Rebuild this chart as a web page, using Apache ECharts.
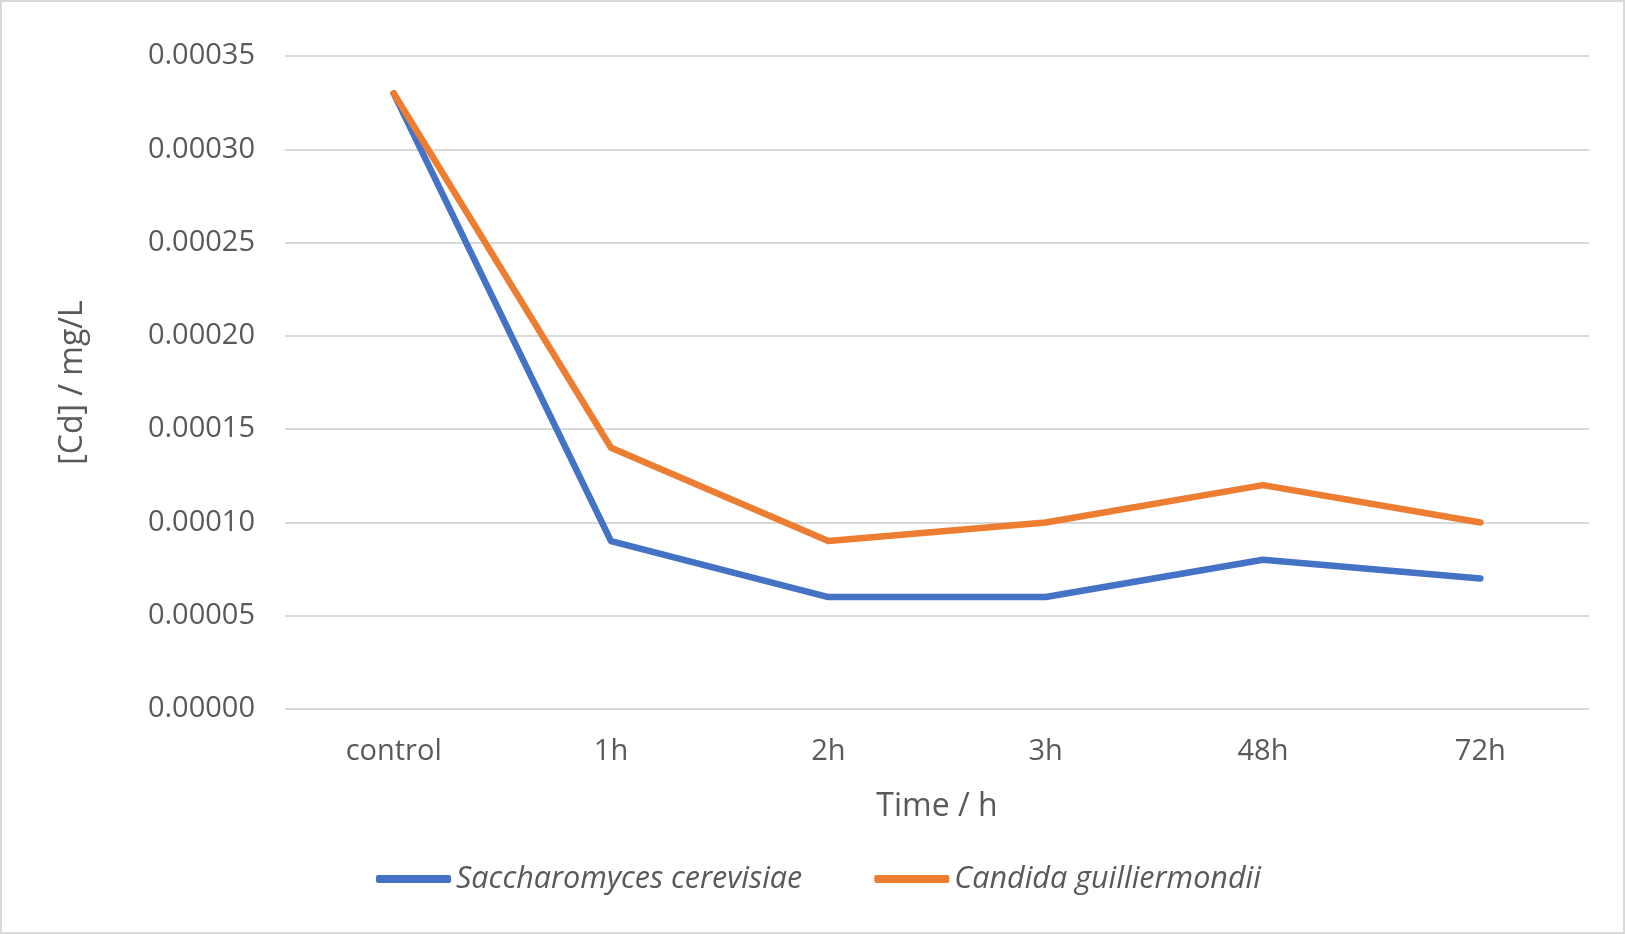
<!DOCTYPE html>
<html>
<head>
<meta charset="utf-8">
<script src="https://cdn.jsdelivr.net/npm/echarts@6/dist/echarts.min.js"></script>
<style>
html,body{margin:0;padding:0;background:#fff;}
#wrap{position:absolute;left:0;top:0;width:1621px;height:930px;border:2px solid #d9d9d9;}
#c{width:1621px;height:930px;}
</style>
</head>
<body>
<div id="wrap"><div id="c"></div></div>
<script>
const categories = ['control', '1h', '2h', '3h', '48h', '72h'];
const saccharomyces = [0.00033, 0.00009, 0.00006, 0.00006, 0.00008, 0.00007];
const candida = [0.00033, 0.00014, 0.00009, 0.00010, 0.00012, 0.00010];
const seriesNames = ['Saccharomyces cerevisiae', 'Candida guilliermondii'];

const chart = echarts.init(document.getElementById('c'), null, {renderer: 'canvas'});
const font = 'Open Sans';
chart.setOption({
  animation: false,
  backgroundColor: '#fff',
  grid: {left: 283, right: 34, top: 54, bottom: 223},
  legend: {
    data: seriesNames,
    bottom: 33,
    left: 369,
    icon: 'roundRect',
    itemWidth: 75,
    itemHeight: 8,
    itemGap: 72,
    textStyle: {fontFamily: font, fontSize: 30.5, fontStyle: 'italic', color: '#595959'}
  },
  xAxis: {
    type: 'category',
    data: categories,
    boundaryGap: true,
    axisLine: {show: false},
    axisTick: {show: false},
    axisLabel: {fontFamily: font, fontSize: 29, color: '#595959', margin: 28},
    name: 'Time / h',
    nameLocation: 'middle',
    nameGap: 82,
    nameTextStyle: {fontFamily: font, fontSize: 32, color: '#595959'}
  },
  yAxis: {
    type: 'value',
    min: 0,
    max: 0.00035,
    interval: 0.00005,
    axisLine: {show: false},
    axisTick: {show: false},
    splitLine: {lineStyle: {color: '#d9d9d9', width: 2}},
    axisLabel: {fontFamily: font, fontSize: 29, color: '#595959', margin: 30,
      formatter: v => v.toFixed(5)},
    name: '[Cd] / mg/L',
    nameLocation: 'middle',
    nameGap: 196,
    nameRotate: 90,
    nameTextStyle: {fontFamily: font, fontSize: 32, color: '#595959'}
  },
  series: [
    {name: seriesNames[0], type: 'line', data: saccharomyces, symbol: 'none',
     lineStyle: {color: '#4472C4', width: 6.5, cap: 'round', join: 'round'}, itemStyle: {color: '#4472C4'}},
    {name: seriesNames[1], type: 'line', data: candida, symbol: 'none',
     lineStyle: {color: '#ED7D31', width: 6.5, cap: 'round', join: 'round'}, itemStyle: {color: '#ED7D31'}}
  ]
});
</script>
</body>
</html>
